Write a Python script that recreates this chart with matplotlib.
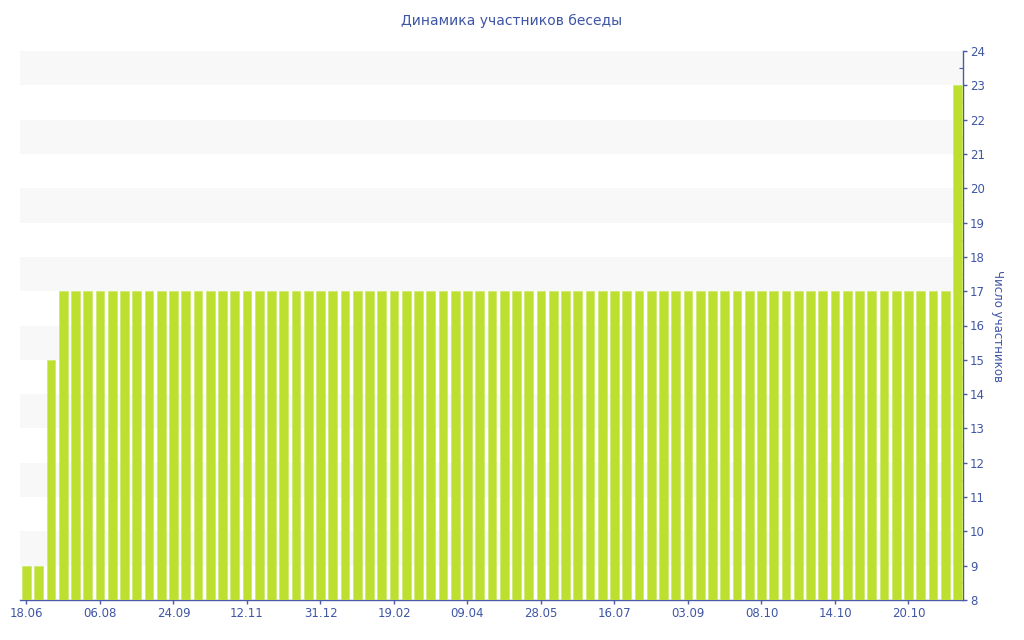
import numpy as np
import matplotlib.pyplot as plt

# Данные: число участников по периодам
counts = [9, 9, 15] + [17] * 73 + [23]
tick_labels = ["18.06", "06.08", "24.09", "12.11", "31.12", "19.02", "09.04",
               "28.05", "16.07", "03.09", "08.10", "14.10", "20.10"]
tick_step = 6

text_color = "#3f55a5"
axis_color = "#4a5aa8"
bar_color = "#bddf30"

fig = plt.figure(figsize=(10.24, 6.4), dpi=100)
ax = fig.add_axes([20 / 1024, 40 / 640, 943 / 1024, 549 / 640])

x = np.arange(len(counts))
ax.bar(x, np.array(counts) - 8, bottom=8, width=0.73, color=bar_color,
       edgecolor="#cde86a", linewidth=0.5, zorder=3)

# чередующиеся полосы фона
for y0 in range(9, 24, 2):
    ax.axhspan(y0, y0 + 1, color="#f8f8f8", zorder=0, lw=0)

ax.set_xlim(-0.53, 76.45)
ax.set_ylim(8, 24)

ax.yaxis.tick_right()
ax.yaxis.set_label_position("right")
ax.set_yticks(range(8, 25))
ax.set_yticks(np.arange(8.5, 24, 1), minor=True)
ax.set_xticks(np.arange(len(tick_labels)) * tick_step)
ax.set_xticklabels(tick_labels)

for s in ["top", "left"]:
    ax.spines[s].set_visible(False)
for s in ["right", "bottom"]:
    ax.spines[s].set_color(axis_color)
    ax.spines[s].set_linewidth(1)

ax.tick_params(axis="both", colors=axis_color, labelcolor=text_color,
               labelsize=8.5, length=3, width=1, pad=2)
ax.tick_params(axis="y", which="minor", colors=axis_color, length=3,
               width=0.8, direction="in")

ax.set_ylabel("Число участников", color=text_color, fontsize=8.5,
              rotation=270, labelpad=14)
fig.suptitle("Динамика участников беседы", color=text_color, fontsize=10,
             x=0.5, y=0.978)

fig.savefig("out.png", dpi=100)
